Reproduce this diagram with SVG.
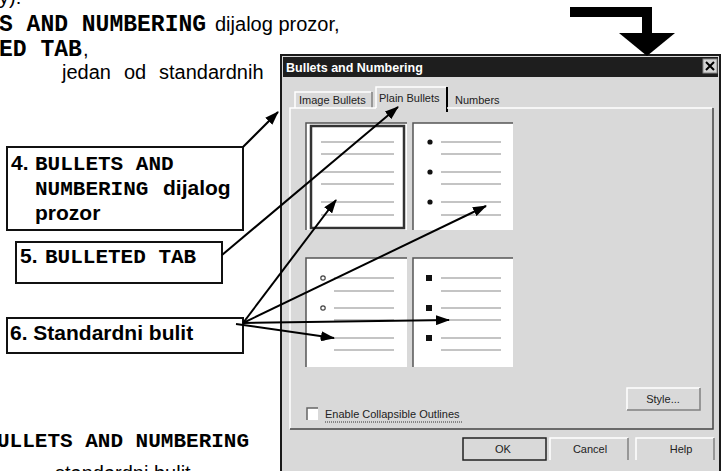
<svg xmlns="http://www.w3.org/2000/svg" width="721" height="471" viewBox="0 0 721 471">
<defs>
<style>
.ar{font-family:"Liberation Sans",Arial,sans-serif;font-size:20px;fill:#000}
.mono{font-family:"Liberation Mono","Courier New",monospace;font-weight:bold;fill:#000}
.ab{font-family:"Liberation Sans",Arial,sans-serif;font-weight:bold;font-size:21px;fill:#000}
.m21{font-size:21px}
.m23{font-size:23px}
.ui{font-family:"Liberation Sans",Arial,sans-serif;font-size:11px;fill:#222}
.callout{fill:#fff;stroke:#111;stroke-width:2}
.conn{stroke:#000;stroke-width:2;fill:none;marker-end:url(#ah)}
.bl{stroke:#c4c4c4;stroke-width:2}
.pv{fill:#fff}
.dk{stroke:#555;stroke-width:1.5;fill:none}
.hl{stroke:#fff;stroke-width:1.5;fill:none}
.sh{stroke:#808080;stroke-width:1.5;fill:none}
</style>
<marker id="ah" viewBox="0 0 14 10" refX="13" refY="5" markerWidth="14" markerHeight="10" markerUnits="userSpaceOnUse" orient="auto">
<path d="M0,0 L14,5 L0,10 z" fill="#000"/>
</marker>
</defs>
<rect width="721" height="471" fill="#fff"/>

<g id="body-text">
<text class="ar" x="-1" y="4">y):</text>
<text y="31"><tspan class="mono m23" x="-1">S AND NUMBERING</tspan><tspan class="ar" x="215">dijalog prozor,</tspan></text>
<text y="56"><tspan class="mono m23" x="-1">ED TAB</tspan><tspan class="ar" x="83">,</tspan></text>
<text class="ar" y="79"><tspan x="62">jedan</tspan><tspan x="124">od</tspan><tspan x="159">standardnih</tspan></text>
<text y="447"><tspan class="mono m21" x="-3">ULLETS AND NUMBERING</tspan></text>
<text class="ar" y="480"><tspan x="55">standardni bulit</tspan></text>
</g>

<g id="dialog">
<rect x="281" y="55" width="439" height="430" fill="#d9d9d9" stroke="#1a1a1a" stroke-width="2"/>
<rect x="283" y="57" width="435" height="20" fill="#1e1e1e"/>
<text x="286" y="72" font-family="Liberation Sans, Arial, sans-serif" font-weight="bold" font-size="12.5" fill="#fff">Bullets and Numbering</text>
<g id="close-btn">
<rect x="703" y="59" width="14" height="14" fill="#d4d4d4" stroke="#888" stroke-width="1"/>
<path d="M706,62 L714,70 M714,62 L706,70" stroke="#000" stroke-width="2"/>
</g>
<g id="tabs">
<path class="hl" d="M295,108 V92 H371"/>
<path class="sh" d="M372,92 V108"/>
<text class="ui" x="299" y="104">Image Bullets</text>
<path class="hl" d="M376,108 V87 H446"/>
<path d="M447,87 V112" stroke="#000" stroke-width="2"/>
<text class="ui" x="379" y="102">Plain Bullets</text>
<text class="ui" x="455" y="104">Numbers</text>
</g>
<g id="panel">
<path class="hl" d="M290,429 V108 H376 M447,108 H712"/>
<path d="M713,108 V429 H290" stroke="#444" stroke-width="1.5" fill="none"/>
</g>
<g id="style-none">
<rect class="pv" x="306" y="123" width="101" height="107"/>
<path class="dk" d="M306,230 V123 H407"/>
<rect x="311" y="126" width="93" height="102" fill="none" stroke="#333" stroke-width="2.5"/>
<path class="bl" d="M321,142H394 M321,154H394 M321,172H394 M321,184H394 M321,202H394 M321,215H394"/>
</g>
<g id="style-dot">
<rect class="pv" x="413" y="123" width="100" height="107"/>
<path class="dk" d="M413,230 V123 H513"/>
<path class="bl" d="M441,142H501 M441,154H501 M441,172H501 M441,184H501 M441,202H501 M441,215H501"/>
<circle cx="430" cy="142" r="2.6" fill="#111"/>
<circle cx="430" cy="172" r="2.6" fill="#111"/>
<circle cx="430" cy="202" r="2.6" fill="#111"/>
</g>
<g id="style-circle">
<rect class="pv" x="306" y="258" width="101" height="109"/>
<path class="dk" d="M306,367 V258 H407"/>
<path class="bl" d="M334,278H394 M334,291H394 M334,308H394 M334,320H394 M334,338H394 M334,350H394"/>
<circle cx="323" cy="278" r="2.2" fill="none" stroke="#444" stroke-width="1.2"/>
<circle cx="323" cy="308" r="2.2" fill="none" stroke="#444" stroke-width="1.2"/>
<circle cx="323" cy="338" r="2.2" fill="none" stroke="#444" stroke-width="1.2"/>
</g>
<g id="style-square">
<rect class="pv" x="413" y="258" width="100" height="109"/>
<path class="dk" d="M413,367 V258 H513"/>
<path class="bl" d="M441,278H501 M441,291H501 M441,308H501 M441,320H501 M441,338H501 M441,350H501"/>
<rect x="426" y="275" width="6" height="6" fill="#111"/>
<rect x="426" y="305" width="6" height="6" fill="#111"/>
<rect x="426" y="335" width="6" height="6" fill="#111"/>
</g>
<g id="collapsible">
<rect x="307" y="408" width="11" height="12" fill="#fff"/>
<path d="M307,420 V408 H318" stroke="#666" stroke-width="1.5" fill="none"/>
<text class="ui" x="325" y="418">Enable Collapsible Outlines</text>
<path d="M325,422 H463" stroke="#333" stroke-width="1" stroke-dasharray="1,1"/>
</g>
<g id="btn-style">
<path class="hl" d="M627,410 V388 H700"/>
<path class="sh" d="M700,388 V410 H627"/>
<text class="ui" x="663" y="403" text-anchor="middle">Style...</text>
</g>
<g id="btn-ok">
<rect x="463" y="438" width="83" height="22" fill="#d9d9d9" stroke="#222" stroke-width="1.5"/>
<text class="ui" x="503" y="453" text-anchor="middle">OK</text>
</g>
<g id="btn-cancel">
<path class="hl" d="M550,460 V438 H628"/>
<path class="sh" d="M628,438 V460"/>
<text class="ui" x="590" y="453" text-anchor="middle">Cancel</text>
</g>
<g id="btn-help">
<path class="hl" d="M636,460 V438 H714"/>
<path class="sh" d="M714,438 V460"/>
<text class="ui" x="681" y="453" text-anchor="middle">Help</text>
</g>
</g>

<g id="bent-arrow">
<path d="M570,12 H647 V36" stroke="#000" stroke-width="10" fill="none"/>
<polygon points="619,33 675,33 647,56" fill="#000"/>
</g>

<g id="callout-4">
<rect class="callout" x="7" y="147" width="236" height="83"/>
<text y="170"><tspan class="ab" x="11">4.</tspan><tspan class="mono m21" x="35">BULLETS AND</tspan></text>
<text y="195"><tspan class="mono m21" x="35">NUMBERING</tspan><tspan class="ab" x="163">dijalog</tspan></text>
<text class="ab" x="35" y="220">prozor</text>
</g>
<g id="callout-5">
<rect class="callout" x="16" y="242" width="206" height="41"/>
<text y="263"><tspan class="ab" x="20">5.</tspan><tspan class="mono m21" x="45">BULLETED TAB</tspan></text>
</g>
<g id="callout-6">
<rect class="callout" x="7" y="318" width="236" height="35"/>
<text class="ab" x="10" y="340">6. Standardni bulit</text>
</g>

<g id="connectors">
<line class="conn" x1="243" y1="147" x2="278" y2="112"/>
<line class="conn" x1="222" y1="255" x2="398" y2="107"/>
<line class="conn" x1="243" y1="323" x2="336" y2="200"/>
<line class="conn" x1="243" y1="323" x2="486" y2="206"/>
<line class="conn" x1="243" y1="323" x2="449" y2="320"/>
<line class="conn" x1="236" y1="324" x2="334" y2="338"/>
</g>
</svg>
